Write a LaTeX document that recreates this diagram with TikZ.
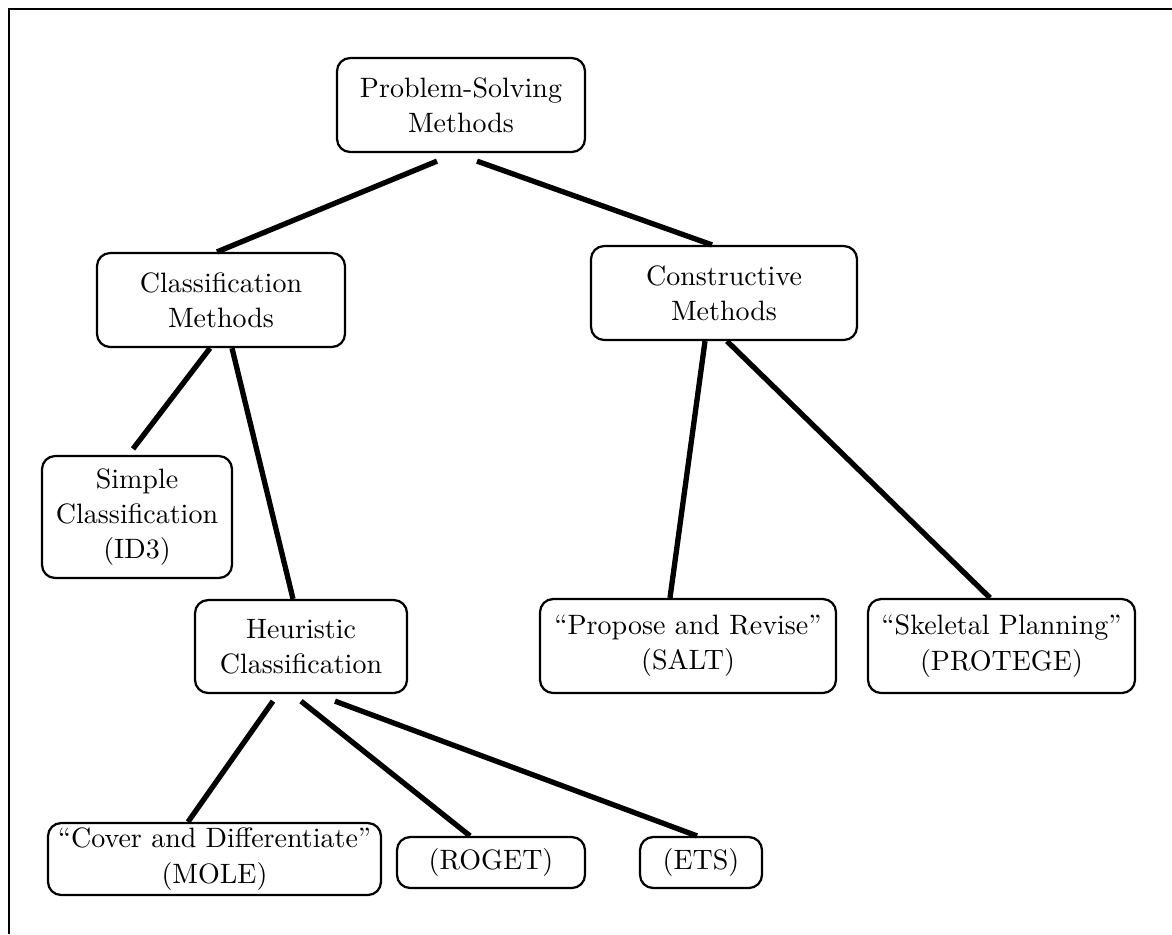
\documentclass[tikz,border=0pt]{standalone}
\usetikzlibrary{calc}
\begin{document}
\begin{tikzpicture}[x=0.357pt,y=-0.357pt,
  box/.style={draw, rounded corners=4.7pt, line width=0.8pt, align=center, inner sep=0pt,
              font=\fontsize{10}{12.6}\selectfont},
  sz/.style 2 args={minimum width=#1*0.357pt, minimum height=#2*0.357pt},
  link/.style={line width=1.9pt},
  frameline/.style={line width=0.45pt}]
\useasboundingbox (0,0) rectangle (1172,934);
\draw[frameline] (9,934) -- (9,9) -- (1172,9);

\node[box, sz={248}{94}] (ps) at (461,105) {Problem-Solving\\Methods};
\node[box, sz={248}{94}] (cls) at (221,300) {Classification\\Methods};
\node[box, sz={266}{94}] (con) at (724,293) {Constructive\\Methods};
\node[box, sz={190}{122}] (simple) at (137,517) {Simple\\Classification\\(ID3)};
\node[box, sz={212}{93}] (heur) at (301,646.5) {Heuristic\\Classification};
\node[box, sz={296}{94}] (prop) at (688,646) {“Propose and Revise”\\(SALT)};
\node[box, sz={267}{94}] (skel) at (1001.5,646) {“Skeletal Planning”\\(PROTEGE)};
\node[box, sz={333}{72}] (mole) at (214.5,859) {“Cover and Differentiate”\\(MOLE)};
\node[box, sz={188}{51}] (roget) at (491,862.5) {(ROGET)};
\node[box, sz={122}{51}] (ets) at (701,862.5) {(ETS)};

\draw[link] ($(ps.south)+(-24,8)$) -- ($(cls.north)+(-4,0)$);
\draw[link] ($(ps.south)+(16,8)$) -- ($(con.north)+(-12,0)$);
\draw[link] ($(cls.south)+(-11,0)$) -- ($(simple.north)+(-4,-6)$);
\draw[link] ($(cls.south)+(11,0)$) -- ($(heur.north)+(-8,0)$);
\draw[link] ($(con.south)+(-19,0)$) -- ($(prop.north)+(-18,0)$);
\draw[link] ($(con.south)+(3,0)$) -- ($(skel.north)+(-11.5,0)$);
\draw[link] ($(heur.south)+(-28,7)$) -- ($(mole.north)+(-26.5,0)$);
\draw[link] ($(heur.south)+(0,7)$) -- ($(roget.north)+(-21,0)$);
\draw[link] ($(heur.south)+(34,7)$) -- ($(ets.north)+(-4,0)$);
\end{tikzpicture}
\end{document}
